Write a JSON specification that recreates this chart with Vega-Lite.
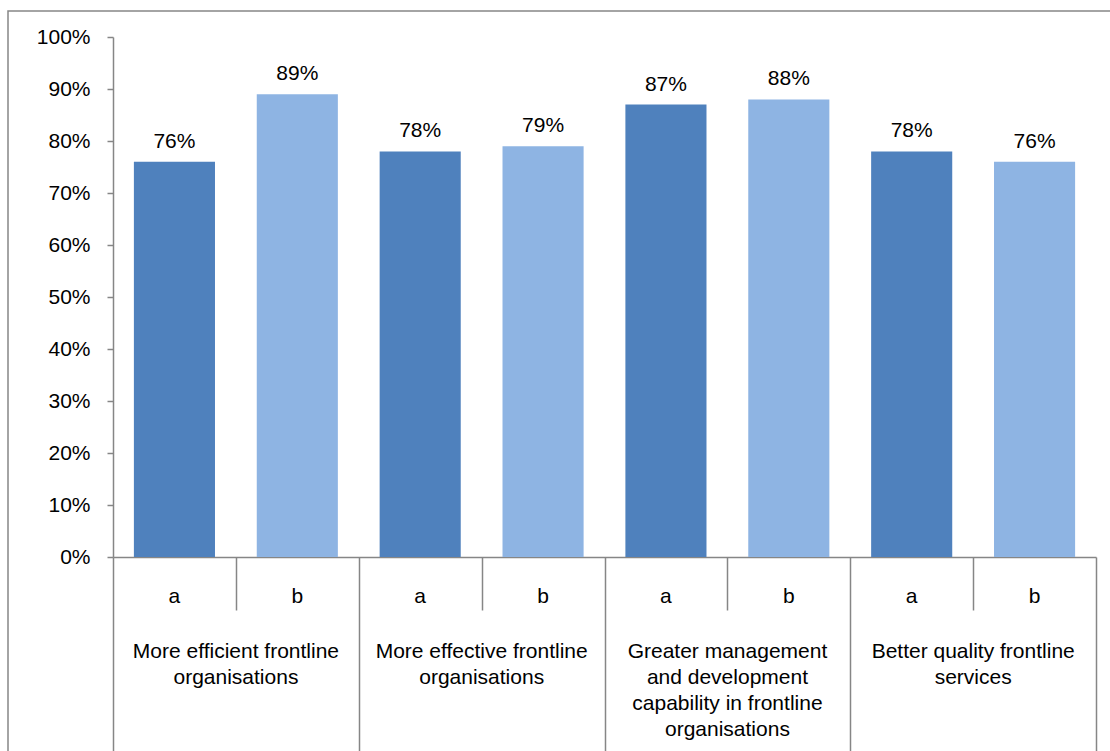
{
  "$schema": "https://vega.github.io/schema/vega-lite/v6.json",
  "autosize": "none",
  "padding": {"left": 8, "top": 11, "right": 0, "bottom": 0},
  "width": 1110,
  "height": 745,
  "title": {
    "text": "Figure 5.1: Support and development outcomes achieved",
    "anchor": "start",
    "frame": "group",
    "baseline": "alphabetic",
    "offset": 2,
    "dx": -6,
    "font": "Liberation Sans",
    "fontSize": 24,
    "fontWeight": "bold",
    "color": "#000000"
  },
  "config": {
    "view": {"stroke": "#868686", "strokeWidth": 1.5},
    "font": "Liberation Sans",
    "axis": {
      "labelFont": "Liberation Sans",
      "labelFontSize": 21,
      "labelColor": "#000000",
      "labelLimit": 400,
      "domainColor": "#868686",
      "tickColor": "#868686",
      "domainWidth": 1.5,
      "tickWidth": 1.5,
      "grid": false,
      "title": null
    }
  },
  "data": {
    "values": [
      {"group": "More efficient frontline organisations", "bar": "1a", "sub": "a", "value": 0.76},
      {"group": "More efficient frontline organisations", "bar": "1b", "sub": "b", "value": 0.89},
      {"group": "More effective frontline organisations", "bar": "2a", "sub": "a", "value": 0.78},
      {"group": "More effective frontline organisations", "bar": "2b", "sub": "b", "value": 0.79},
      {"group": "Greater management and development capability in frontline organisations", "bar": "3a", "sub": "a", "value": 0.87},
      {"group": "Greater management and development capability in frontline organisations", "bar": "3b", "sub": "b", "value": 0.88},
      {"group": "Better quality frontline services", "bar": "4a", "sub": "a", "value": 0.78},
      {"group": "Better quality frontline services", "bar": "4b", "sub": "b", "value": 0.76}
    ]
  },
  "resolve": {"axis": {"x": "independent"}},
  "layer": [
    {
      "mark": {"type": "bar", "width": {"band": 0.66}},
      "encoding": {
        "x": {
          "field": "bar",
          "type": "nominal",
          "scale": {"range": [105, 1088], "paddingInner": 0, "paddingOuter": 0},
          "axis": {
            "orient": "bottom",
            "offset": -199,
            "labelAngle": 0,
            "labelExpr": "isString(datum.value) ? slice(datum.value, -1) : ''",
            "ticks": false,
            "labelBaseline": "middle",
            "labelPadding": 39
          }
        },
        "y": {
          "field": "value",
          "type": "quantitative",
          "scale": {"domain": [0, 1], "range": [546, 26], "nice": false},
          "axis": {
            "orient": "left",
            "offset": -105,
            "format": ".0%",
            "values": [0, 0.1, 0.2, 0.3, 0.4, 0.5, 0.6, 0.7, 0.8, 0.9, 1],
            "tickSize": 6,
            "labelPadding": 17
          }
        },
        "color": {
          "field": "sub",
          "type": "nominal",
          "scale": {"domain": ["a", "b"], "range": ["#4F81BD", "#8EB4E3"]},
          "legend": null
        }
      }
    },
    {
      "mark": {"type": "text", "baseline": "alphabetic", "dy": -14, "fontSize": 21, "font": "Liberation Sans", "color": "#000000"},
      "encoding": {
        "x": {
          "field": "bar",
          "type": "nominal",
          "axis": {
            "orient": "bottom",
            "offset": -199,
            "values": ["1a", "2a", "3a", "4a"],
            "labelOffset": 61.5,
            "ticks": false,
            "domain": false,
            "labelAngle": 0,
            "labelBaseline": "top",
            "labelPadding": 83,
            "labelLineHeight": 26,
            "labelExpr": "datum.value == '1a' ? ['More efficient frontline', 'organisations'] : datum.value == '2a' ? ['More effective frontline', 'organisations'] : datum.value == '3a' ? ['Greater management', 'and development', 'capability in frontline', 'organisations'] : datum.value == '4a' ? ['Better quality frontline', 'services'] : ''"
          }
        },
        "y": {"field": "value", "type": "quantitative"},
        "text": {"field": "value", "type": "quantitative", "format": ".0%"}
      }
    },
    {
      "mark": {"type": "text", "text": ""},
      "encoding": {
        "x": {
          "field": "bar",
          "type": "nominal",
          "axis": {
            "orient": "bottom",
            "offset": -199,
            "labels": false,
            "domain": false,
            "tickBand": "extent",
            "tickSize": {"condition": {"test": "datum.extra || (isString(datum.value) && slice(datum.value, -1) == 'b')", "value": 200}, "value": 53}
          }
        },
        "y": {"field": "value", "type": "quantitative"}
      }
    }
  ]
}
